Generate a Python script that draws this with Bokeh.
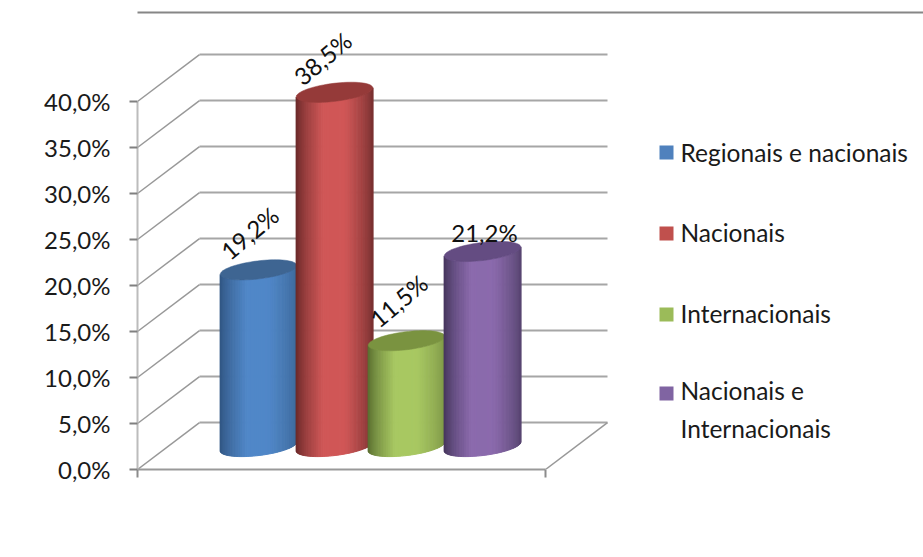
import math

from bokeh.core.properties import value
from bokeh.embed import file_html
from bokeh.models import FixedTicker, Label, PolyAnnotation, Range1d
from bokeh.plotting import figure
from bokeh.resources import INLINE

# Chart data
categories = ["Regionais e nacionais", "Nacionais", "Internacionais", "Nacionais e\nInternacionais"]
shares = [19.2, 38.5, 11.5, 21.2]
share_labels = ["19,2%", "38,5%", "11,5%", "21,2%"]
y_ticks = [0, 5, 10, 15, 20, 25, 30, 35, 40]
y_tick_labels = ["0,0%", "5,0%", "10,0%", "15,0%", "20,0%", "25,0%", "30,0%", "35,0%", "40,0%"]
x_title = "Competições"

# Layout: horizontal unit is one pixel, vertical unit is one percentage point
PX_PER_PCT = 9.2
FLOOR_PX = 469
LEFT_PX, FRONT_RIGHT_PX = 137, 545
DEPTH_X = 62
DEPTH_PCT = 5.1
BASE_LIFT_PCT = 2.5
bar_centers = [258, 334, 406, 482]
RX, RY, TILT = 38.5, 9.0, math.radians(7)

FONT = value("Lato")
GRID = "#a6a6a6"
DIAG = "#989898"
BORDER = "#868686"

# Bar shading: (left edge, centre, right edge, cap)
bar_shades = [
    ("#30547f", "#5087c8", "#3d6899", "#3e6592"),
    ("#662828", "#d05757", "#773030", "#953a39"),
    ("#566a2e", "#a8c862", "#7e9747", "#7a9340"),
    ("#423459", "#8b6aad", "#574570", "#644c82"),
]
legend_marks = ["#4f81bd", "#c0504d", "#9bbb59", "#8064a2"]


def y_at(px):
    return (FLOOR_PX - px) / PX_PER_PCT


def rgb(h):
    return [int(h[i:i + 2], 16) for i in (1, 3, 5)]


def mix(a, b, f):
    ca, cb = rgb(a), rgb(b)
    return "#%02x%02x%02x" % tuple(round(x + (y - x) * f) for x, y in zip(ca, cb))


def rim(cx, cy, t):
    """Point on a tilted ellipse, returned in plot units."""
    dx = RX * math.cos(t) * math.cos(TILT) - RY * math.sin(t) * math.sin(TILT)
    dy = RX * math.cos(t) * math.sin(TILT) + RY * math.sin(t) * math.cos(TILT)
    return cx + dx, cy + dy / PX_PER_PCT


p = figure(
    width=923, height=557, output_backend="svg", toolbar_location=None,
    x_range=Range1d(LEFT_PX, 923), y_range=Range1d(0, FLOOR_PX / PX_PER_PCT),
    min_border_left=LEFT_PX, min_border_right=0, min_border_top=0,
    min_border_bottom=557 - FLOOR_PX,
)
p.outline_line_color = None
p.grid.visible = False

# Value axis
ya = p.yaxis[0]
ya.ticker = FixedTicker(ticks=y_ticks)
ya.major_label_overrides = dict(zip(y_ticks, y_tick_labels))
ya.bounds = (0, 40)
ya.axis_line_color = "#bcbcbc"
ya.axis_line_width = 2
ya.major_tick_line_color = "#808080"
ya.major_tick_line_width = 2
ya.major_tick_out = 8
ya.major_tick_in = 0
ya.minor_tick_line_color = None
ya.major_label_standoff = 19
ya.major_label_text_font = "Lato"
ya.major_label_text_font_size = "24px"
ya.major_label_text_color = "#1a1a1a"

# Category axis
xa = p.xaxis[0]
xa.ticker = FixedTicker(ticks=[LEFT_PX, FRONT_RIGHT_PX])
xa.major_label_overrides = {LEFT_PX: "", FRONT_RIGHT_PX: ""}
xa.bounds = (LEFT_PX, FRONT_RIGHT_PX)
xa.axis_line_color = "#999999"
xa.axis_line_width = 2
xa.major_tick_line_color = "#8c8c8c"
xa.major_tick_line_width = 2
xa.major_tick_out = 8
xa.major_tick_in = 0
xa.minor_tick_line_color = None
p.add_layout(Label(
    x=0.5 * (LEFT_PX + FRONT_RIGHT_PX) - 1, y=y_at(512), text=x_title,
    text_font="Lato", text_font_size="24px", text_color="#1a1a1a",
    text_align="center", text_baseline="middle",
))

# Back wall, side wall and floor edge
back_left = LEFT_PX + DEPTH_X
back_right = FRONT_RIGHT_PX + DEPTH_X
p.segment(x0=[back_left] * len(y_ticks), x1=[back_right] * len(y_ticks),
          y0=[t + DEPTH_PCT for t in y_ticks], y1=[t + DEPTH_PCT for t in y_ticks],
          line_color=GRID, line_width=2)
p.segment(x0=[LEFT_PX] * len(y_ticks), x1=[back_left] * len(y_ticks),
          y0=y_ticks, y1=[t + DEPTH_PCT for t in y_ticks],
          line_color=DIAG, line_width=1.5)
p.segment(x0=[FRONT_RIGHT_PX], x1=[back_right], y0=[0], y1=[DEPTH_PCT],
          line_color=DIAG, line_width=1.5)

# Cylinders, left to right so that each one overlaps its left neighbour
STRIPS = 60
for cx, share, (c_left, c_mid, c_right, c_cap) in zip(bar_centers, shares, bar_shades):
    top = BASE_LIFT_PCT + share
    xs, ys, colors = [], [], []
    for i in range(STRIPS):
        t0 = math.pi + math.pi * i / STRIPS
        t1 = math.pi + math.pi * (i + 1) / STRIPS
        bx0, by0 = rim(cx, BASE_LIFT_PCT, t0)
        bx1, by1 = rim(cx, BASE_LIFT_PCT, t1)
        tx0, ty0 = rim(cx, top, t0)
        tx1, ty1 = rim(cx, top, t1)
        xs.append([bx0, bx1, tx1, tx0])
        ys.append([by0, by1, ty1, ty0])
        u = (0.5 * (bx0 + bx1) - (cx - RX)) / (2 * RX)
        s = min(1.0, min(u, 1 - u) / 0.36) ** 0.75
        colors.append(mix(c_left if u < 0.5 else c_right, c_mid, s))
    p.patches(xs, ys, fill_color=colors, line_color=colors, line_width=1)
    cap = [rim(cx, top, 2 * math.pi * k / 72) for k in range(72)]
    p.patch([q[0] for q in cap], [q[1] for q in cap],
            fill_color=c_cap, line_color=c_cap, line_width=0.5)

# Value labels
label_dx = [-9, -12, -8, 2]
label_dy = [-37, -34, -40, -19]
label_angle = [40, 40, 40, 0]
p.text(
    x=bar_centers, y=[BASE_LIFT_PCT + s for s in shares], text=share_labels,
    x_offset=label_dx, y_offset=label_dy, angle=label_angle, angle_units="deg",
    text_font=FONT, text_font_size="24px", text_color="#111111",
    text_align="center", text_baseline="middle",
)

# Legend
legend_mark_px = [152, 233, 314, 393]
legend_text_px = [152, 232, 313, 409]
p.scatter(x=[666] * 4, y=[y_at(v) for v in legend_mark_px], marker="square", size=14,
          fill_color=legend_marks, line_color=None)
p.text(x=[680] * 4, y=[y_at(v) for v in legend_text_px], text=categories,
       text_font=FONT, text_font_size="24.5px", text_color="#1a1a1a",
       text_align="left", text_baseline="middle", text_line_height=1.3)

# Chart area border: a left and a top rule
for bx0, bx1, by0, by1 in [(9, 12, 11, 557), (9, 923, 11, 13)]:
    p.add_layout(PolyAnnotation(
        xs=[bx0, bx1, bx1, bx0], ys=[y_at(by0), y_at(by0), y_at(by1), y_at(by1)],
        xs_units="data", ys_units="data",
        fill_color=BORDER, fill_alpha=1, line_color=None,
    ))

open("out.html", "w").write(file_html(p, INLINE))
